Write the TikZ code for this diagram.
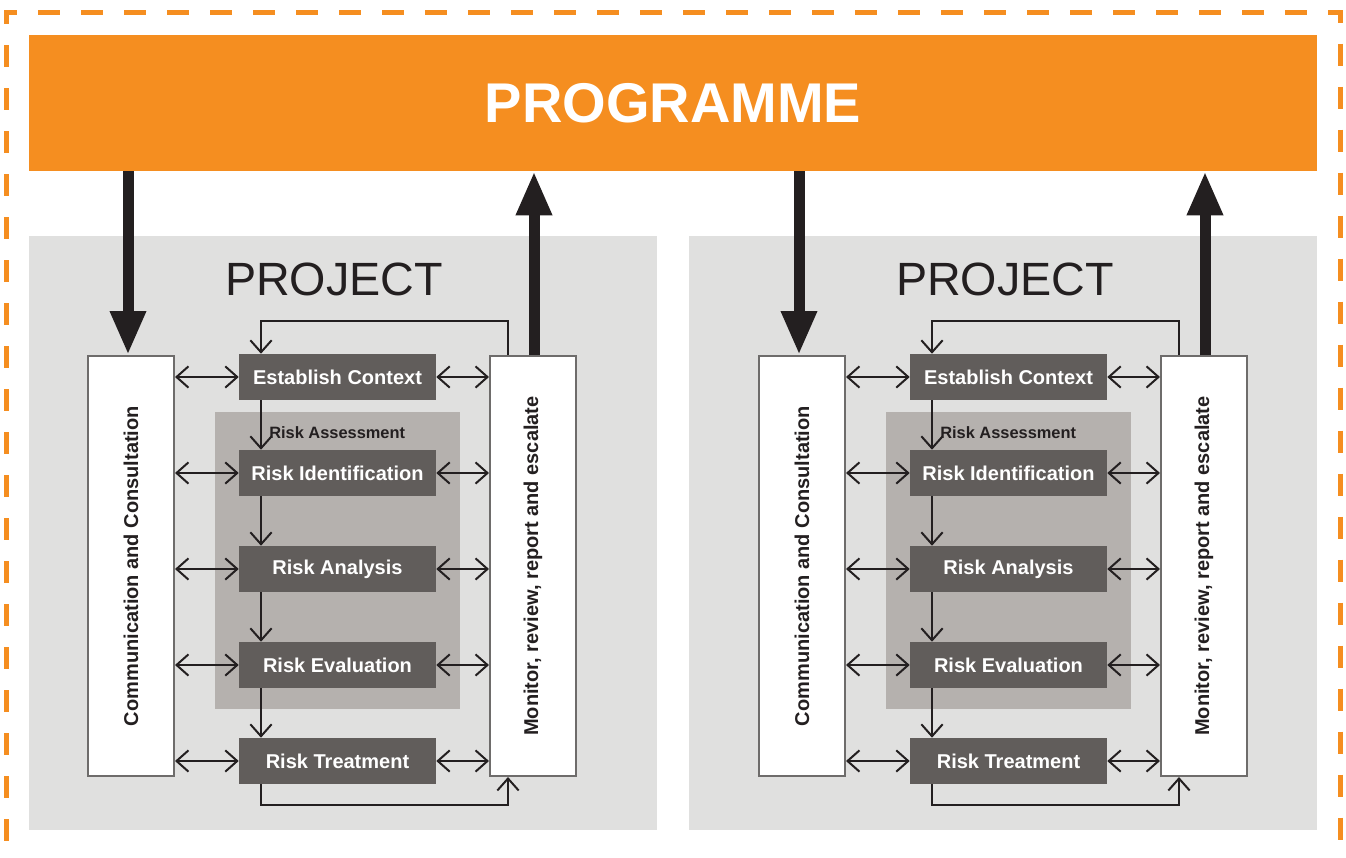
\documentclass[tikz,border=0pt]{standalone}
\usepackage{fontspec}
\setmainfont{Liberation Sans}
\usetikzlibrary{arrows.meta,calc}
\definecolor{orng}{HTML}{F58E20}
\definecolor{panel}{HTML}{E0E0DF}
\definecolor{rabox}{HTML}{B5B1AE}
\definecolor{dark}{HTML}{615D5B}
\definecolor{ink}{HTML}{231F20}
\definecolor{bord}{HTML}{6E6C6B}
\begin{document}
\begin{tikzpicture}[x=0.75pt,y=-0.75pt,
  darkbox/.style={fill=dark, text=white, font=\bfseries\fontsize{15}{18}\selectfont, minimum width=197*0.75pt, minimum height=46*0.75pt, inner sep=0pt},
  sidebox/.style={draw=bord, line width=1.5pt, fill=white, minimum width=86*0.75pt, minimum height=420*0.75pt, inner sep=0pt},
  vtext/.style={rotate=90, text=ink, font=\bfseries\fontsize{15}{18}\selectfont, inner sep=0pt},
  conn/.style={draw=ink, line width=1.5pt},
  barb/.tip={Straight Barb[length=9pt 0 0,width=16pt 0 0]},
  sa/.style={conn, -barb},
  da/.style={conn, barb-barb},
  big/.style={draw=ink, line width=8.25pt, -{Triangle[length=33pt,width=25pt]}},
  projtitle/.style={text=ink, font=\fontsize{35}{40}\selectfont, inner sep=0pt},
  ralabel/.style={text=ink, font=\bfseries\fontsize{12.3}{14}\selectfont, inner sep=0pt, anchor=west}
]
\useasboundingbox (0,0) rectangle (1346,857);
% outer dashed frame
\draw[orng, line width=3.75pt, line join=miter, dash pattern=on 16.5pt off 15.75pt, dash phase=19.875pt]
  (6,900) -- (6,12.5) -- (1340,12.5) -- (1340,900);
% programme bar
\node[fill=orng, minimum width=1288*0.75pt, minimum height=136*0.75pt, inner sep=0pt,
  text=white, font=\bfseries\fontsize{42}{48}\selectfont] (prog) at (673,103) {PROGRAMME};

\foreach \o/\s/\p in {0/a/0, 671/b/660}{
  \fill[panel] (29+\p,236) rectangle (657+\p,830);
  \node[projtitle] (proj\s) at (334+\o,279) {PROJECT};
  \fill[rabox] (215+\o,412) rectangle (460+\o,709);
  \node[ralabel] (ra\s) at (269+\o,433) {Risk Assessment};
  \node[darkbox] (ec\s) at (337.5+\o,377) {Establish Context};
  \node[darkbox] (ri\s) at (337.5+\o,473) {Risk Identification};
  \node[darkbox] (ran\s) at (337.5+\o,569) {Risk Analysis};
  \node[darkbox] (re\s) at (337.5+\o,665) {Risk Evaluation};
  \node[darkbox] (rt\s) at (337.5+\o,761) {Risk Treatment};
  \node[sidebox] (comm\s) at (131+\o,566) {};
  \node[vtext] (commt\s) at (comm\s) {Communication and Consultation};
  \node[sidebox] (mon\s) at (533+\o,566) {};
  \node[vtext] (mont\s) at (mon\s) {Monitor, review, report and escalate};
  % big arrows
  \draw[big] (prog.south -| 128+\o,0) -- ([xshift=-2.25pt]comm\s.north);
  \draw[big] ([xshift=0.75pt]mon\s.north) -- (prog.south -| 534+\o,0);
  % vertical chain
  \draw[sa] ([xshift=-76.5*0.75pt]ec\s.south) -- ([xshift=-76.5*0.75pt]ri\s.north);
  \draw[sa] ([xshift=-76.5*0.75pt]ri\s.south) -- ([xshift=-76.5*0.75pt]ran\s.north);
  \draw[sa] ([xshift=-76.5*0.75pt]ran\s.south) -- ([xshift=-76.5*0.75pt]re\s.north);
  \draw[sa] ([xshift=-76.5*0.75pt]re\s.south) -- ([xshift=-76.5*0.75pt]rt\s.north);
  % loops
  \draw[sa] ([xshift=-25*0.75pt]mon\s.north) -- ++(0,-34) -| ([xshift=-76.5*0.75pt]ec\s.north);
  \draw[sa] ([xshift=-76.5*0.75pt]rt\s.south) -- ++(0,21) -| ([xshift=-25*0.75pt]mon\s.south);
  % side double arrows
  \foreach \b in {ec,ri,ran,re,rt}{
    \draw[da] (comm\s.east |- \b\s.west) -- (\b\s.west);
    \draw[da] (\b\s.east) -- (mon\s.west |- \b\s.east);
  }
}
\end{tikzpicture}
\end{document}
